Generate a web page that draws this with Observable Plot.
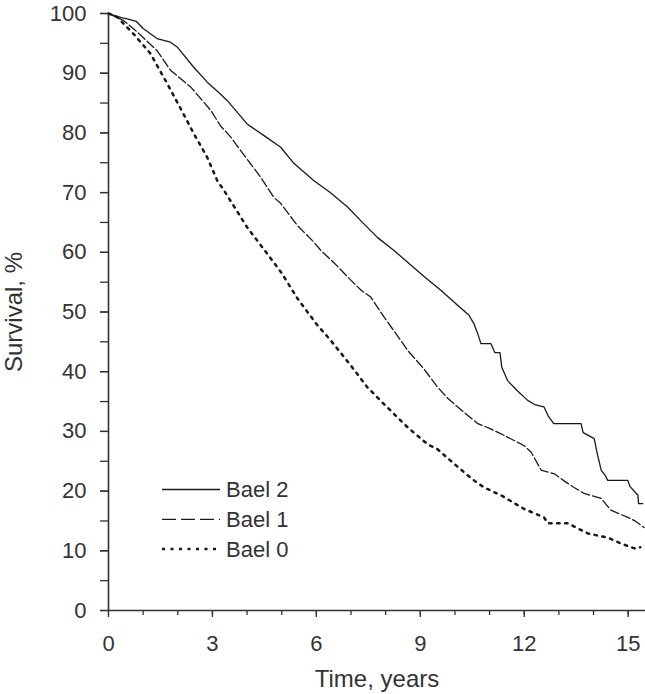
<!DOCTYPE html>
<html><head><meta charset="utf-8">
<script src="https://cdn.jsdelivr.net/npm/d3@7"></script>
<script src="https://cdn.jsdelivr.net/npm/@observablehq/plot@0.6"></script>
<style>
body{margin:0;background:#fff;}
#wrap{position:relative;width:645px;height:694px;}
#legend{position:absolute;left:0;top:0;pointer-events:none;}
</style></head><body><div id="wrap"></div>
<script>
// Data (time in years, survival in %)
const bael2T = [0,0.37,0.54,0.8,1.0,1.4,1.79,1.98,2.46,2.85,3.23,3.43,4.0,4.5,4.97,5.35,5.93,6.4,6.9,7.28,7.76,8.24,8.7,9.1,9.6,10.1,10.4,10.55,10.65,10.75,11.04,11.15,11.3,11.35,11.52,11.8,12.1,12.3,12.57,12.7,12.85,13.64,13.7,14.02,14.1,14.22,14.35,14.41,14.99,15.05,15.28,15.3,15.42];
const bael2S = [100,99.3,99.1,98.7,97.5,95.8,95.2,94.4,91.0,88.5,86.5,85.4,81.5,79.5,77.6,74.9,72.0,70.0,67.6,65.3,62.5,60.3,58.0,56.0,53.6,51.0,49.5,48.0,46.5,44.7,44.7,43.2,43.2,40.8,38.5,36.8,35.2,34.5,34.1,32.5,31.3,31.3,29.8,28.8,26.5,23.5,22.5,21.8,21.8,20.8,19.3,17.9,17.9];

const bael1T = [0,0.44,0.83,1.4,1.79,2.37,2.95,3.23,3.53,3.82,4.39,4.77,4.97,5.45,5.93,6.13,6.5,7.0,7.3,7.57,7.96,8.44,8.63,9.1,9.5,9.8,10.2,10.66,11.0,11.33,12.0,12.2,12.49,12.87,13.2,13.44,13.73,14.22,14.5,14.99,15.2,15.46];
const bael1S = [100,98.8,96.9,93.8,90.5,87.7,83.8,81.2,79.3,77.0,72.6,69.2,68.2,64.5,61.7,60.3,58.3,55.3,53.6,52.5,49.1,45.2,43.6,40.5,37.4,35.5,33.5,31.3,30.5,29.6,27.6,26.5,23.5,22.9,21.5,20.6,19.6,18.8,16.8,15.6,15.0,13.9];

const bael0T = [0,0.25,0.72,1.21,1.7,2.08,2.46,2.85,3.14,3.33,4.0,4.59,5.0,5.45,6.0,6.42,7.0,7.47,8.0,8.63,9.22,9.5,9.97,10.5,10.84,11.33,12.0,12.57,12.68,13.26,13.84,14.41,14.8,15.18,15.35];
const bael0S = [100,99.4,96.6,93.3,88.2,84.1,79.9,75.9,72.0,70.4,64.2,59.7,56.5,52.3,48.0,45.2,41.0,37.4,34.3,30.7,27.8,27.0,24.6,22.0,20.6,19.3,17.0,15.6,14.6,14.6,12.9,12.2,11.2,10.4,10.6];

const seriesNames = ["Bael 2", "Bael 1", "Bael 0"];
const xTicks = [0,3,6,9,12,15];
const xMinor = [0,1,2,3,4,5,6,7,8,9,10,11,12,13,14,15];
const yTicks = [0,10,20,30,40,50,60,70,80,90,100];
const yMinor = [0,5,10,15,20,25,30,35,40,45,50,55,60,65,70,75,80,85,90,95,100];

const rows = (name, T, S) => T.map((t, i) => ({name, t, s: S[i]}));
const d2 = rows(seriesNames[0], bael2T, bael2S);
const d1 = rows(seriesNames[1], bael1T, bael1S);
const d0 = rows(seriesNames[2], bael0T, bael0S);

const styles = {
  "Bael 2": {strokeWidth: 1.3, dash: null, legendDash: null},
  "Bael 1": {strokeWidth: 1.3, dash: "9,3", legendDash: "14,5"},
  "Bael 0": {strokeWidth: 2.5, dash: "2.5,5.5", legendDash: "3,5.5"}
};

const ink = "#1a1a1a";
const axisInk = "#333";
const font = "'Liberation Sans', Arial, Helvetica, sans-serif";

const plot = Plot.plot({
  width: 645, height: 694,
  marginLeft: 108, marginRight: 0, marginTop: 13, marginBottom: 84,
  style: {fontFamily: font, fontSize: "22px", color: axisInk, background: "#fff", overflow: "visible"},
  x: {domain: [0, 15.5]},
  y: {domain: [0, 100]},
  marks: [
    Plot.axisY(yMinor, {tickSize: 8, tickFormat: () => "", label: null, stroke: axisInk, strokeWidth: 1.3}),
    Plot.axisY(yTicks, {tickSize: 8, tickPadding: 14, label: "Survival, %", labelAnchor: "center", labelOffset: 104, labelArrow: "none", stroke: axisInk, strokeWidth: 1.3}),
    Plot.axisX(xMinor, {tickSize: 5, tickFormat: () => "", label: null, stroke: axisInk, strokeWidth: 1.3}),
    Plot.axisX(xTicks, {tickSize: 7, tickPadding: 18, label: "Time, years", labelAnchor: "center", labelOffset: 76, labelArrow: "none", stroke: axisInk, strokeWidth: 1.3}),
    Plot.ruleX([0], {stroke: axisInk, strokeWidth: 1.6}),
    Plot.ruleY([0], {stroke: axisInk, strokeWidth: 1.6}),
    Plot.line(d2, {x: "t", y: "s", stroke: ink, strokeWidth: styles["Bael 2"].strokeWidth}),
    Plot.line(d1, {x: "t", y: "s", stroke: ink, strokeWidth: styles["Bael 1"].strokeWidth, strokeDasharray: styles["Bael 1"].dash}),
    Plot.line(d0, {x: "t", y: "s", stroke: ink, strokeWidth: styles["Bael 0"].strokeWidth, strokeDasharray: styles["Bael 0"].dash})
  ]
});

const wrap = document.getElementById("wrap");
wrap.appendChild(plot);
d3.select(plot).selectAll('g[aria-label="y-axis label"] text, g[aria-label="x-axis label"] text').attr("font-size", 24);

// Legend overlay (inside plot area, as in the reference)
const leg = d3.select(wrap).append("svg").attr("id", "legend").attr("width", 645).attr("height", 694);
const legX0 = 162, legX1 = 220, legY0 = 489.5, legStep = 29.8;
seriesNames.forEach((name, i) => {
  const y = legY0 + i * legStep;
  const st = styles[name];
  leg.append("line").attr("x1", legX0).attr("x2", legX1).attr("y1", y).attr("y2", y)
    .attr("stroke", ink).attr("stroke-width", st.strokeWidth)
    .attr("stroke-dasharray", st.legendDash);
  leg.append("text").attr("x", legX1 + 6).attr("y", y).attr("dy", "0.36em")
    .attr("font-family", font).attr("font-size", 22).attr("fill", axisInk).text(name);
});
</script></body></html>
